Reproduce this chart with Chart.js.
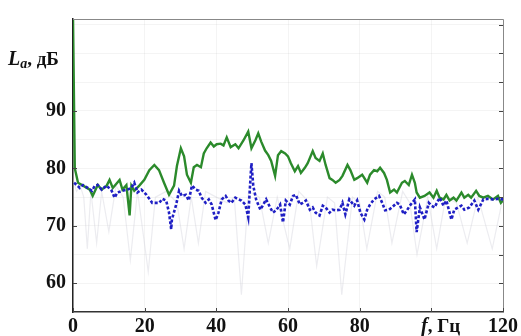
<!DOCTYPE html>
<html>
<head>
<meta charset="utf-8">
<script src="https://cdn.jsdelivr.net/npm/chart.js@4"></script>
<style>
  html, body { margin: 0; padding: 0; background: #fff; }
  #wrap { width: 521px; height: 336px; position: relative; }
</style>
</head>
<body>
<div id="wrap"><canvas id="spectrum"></canvas></div>
<script>
// green curve: f (Hz) and level (dB)
const greenF = [0, 0.5, 0.8, 1.4, 2.8, 4.7, 5.5, 6.9, 8, 9.4, 10.2, 11.1, 13, 13.8, 14.9, 15.8, 16.3, 17.1, 18.5, 19.9,
  21.3, 22.7, 24, 25.4, 26.8, 28.2, 29, 30.1, 31, 31.8, 32.9, 33.7, 34.6, 35.7, 36.5, 37.3, 38.4, 39.3, 40.1, 41.2,
  42, 42.9, 44, 45.3, 46.2, 47.6, 48.9, 49.8, 50.9, 51.7, 52.5, 53.6, 54.5, 55.3, 56.4, 57.2, 58.1, 59.2, 60, 60.8,
  61.9, 62.8, 63.6, 64.7, 65.5, 66.9, 67.7, 68.8, 69.7, 70.5, 71.6, 72.4, 73.3, 74.4, 75.2, 76.6, 77.4, 78.5, 79.3, 80.7,
  82.1, 82.9, 84, 84.9, 85.7, 86.8, 87.6, 88.5, 89.6, 90.4, 91.8, 92.6, 93.7, 94.6, 95.4, 95.9, 96.8, 98.1, 99.5, 100.6,
  101.5, 102.3, 103.4, 104.2, 105.1, 106.2, 107, 108.4, 109.2, 110.3, 111.1, 112.5, 113.4, 114.5, 115.8, 117.2, 118.6, 119.4, 120];
const greenL = [106.5, 80, 79.2, 77.5, 77, 76.3, 75.2, 77.1, 76.3, 77, 78, 76.6, 78, 76.3, 77.1, 71.8, 77, 76.1, 77, 78,
  79.7, 80.6, 79.7, 77.5, 75.4, 77, 80.4, 83.5, 82.1, 78.9, 77.5, 80.2, 80.6, 80.2, 82.6, 83.5, 84.5, 83.8, 84.2, 84.3,
  84, 85.4, 83.7, 84.2, 83.5, 84.9, 86.4, 83.5, 84.9, 86.1, 84.7, 83.1, 82.3, 81.3, 78.7, 82.3, 83, 82.6, 82.1, 80.9,
  79.5, 80.4, 79.2, 80.1, 80.9, 83, 81.8, 81.3, 82.6, 80.6, 78.3, 78, 77.5, 78, 78.7, 80.6, 79.7, 78, 78.3, 78.9,
  77.5, 78.9, 79.7, 79.5, 80.1, 79.2, 78, 75.8, 76.3, 75.8, 77.5, 77.8, 77.1, 78.9, 77.5, 75.8, 74.9, 75.2, 75.8, 74.9,
  76.1, 74.9, 74.6, 75.4, 74.4, 74.9, 74.4, 75.8, 74.9, 75.4, 74.9, 76.1, 75.2, 74.9, 75.2, 74.6, 75.2, 74, 74.4];

// blue dotted curve
const blueF = [0.3, 1.1, 1.9, 2.8, 4.1, 5.3, 6.1, 6.9, 8, 9.4, 10.8, 11.6, 12.4, 13.8, 15.2, 16.3, 17.1, 18, 19.1, 20.5,
  21.3, 22.1, 23.2, 24.1, 24.9, 26, 26.8, 27.4, 27.6, 28.8, 29.6, 30.4, 31.5, 32.3, 33.2, 34.3, 35.1, 35.9, 37, 37.9,
  38.7, 39.8, 40.6, 41.5, 42.6, 43.4, 44.2, 45.3, 46.2, 47, 48.1, 48.9, 49.5, 49.8, 50.3, 51.1, 52.3, 53.1, 53.9, 55,
  55.8, 56.7, 57.8, 58.6, 59.4, 60.5, 61.4, 62.2, 63.3, 64.1, 65, 66.1, 66.9, 67.7, 68.8, 69.7, 70.5, 71.6, 72.4, 73.3,
  74.4, 75.2, 76, 77.1, 78.5, 79.3, 80.2, 81.3, 82.1, 82.9, 84, 85.4, 86.3, 87.1, 88.2, 89, 90.4, 91.2, 92.3, 93.2,
  94, 95.4, 95.9, 96.8, 98.1, 99.3, 100.1, 100.9, 102.3, 103.4, 104.2, 105.6, 106.4, 107.5, 108.4, 109.2, 110.6, 112, 113.1, 114.5,
  115.8, 117.2, 118.6, 120];
const blueL = [77.5, 77.1, 76.6, 77.1, 76.6, 76.1, 77, 77.1, 76.3, 77, 76.1, 74.9, 75.8, 76.1, 76.3, 76.6, 77.5, 75.8, 76.3, 75.4,
  74.7, 74, 74, 74, 74.7, 74.4, 72.3, 69.4, 71.1, 73.7, 76.1, 75.2, 75.4, 74.4, 77, 76.3, 76.1, 74.9, 74, 74.6,
  73.7, 71, 72.3, 74.6, 75.2, 74.4, 74, 74.9, 74.6, 74.4, 73.7, 71.5, 78, 80.9, 77, 74.6, 72.8, 73.7, 74.6, 73.2,
  72.3, 72.7, 73.7, 70.6, 74.4, 73.7, 75.2, 75.4, 73.7, 74, 74.4, 72.8, 73.2, 72.3, 71.8, 73.5, 73.2, 72.3, 72.8, 72.7,
  72.8, 74, 72, 74.6, 73.5, 74.4, 72.3, 71.1, 72.8, 73.7, 74.6, 75.2, 74, 72.7, 72.8, 73.2, 74, 73.7, 72, 72.7,
  73.5, 74.6, 68.9, 73.2, 71.1, 74, 73.5, 73.2, 74.9, 73.5, 74.4, 71.1, 72.8, 73.2, 73.5, 72.8, 73.2, 74.4, 72.8, 74.6,
  74.7, 74.6, 74.7, 74.6];

// faint grey background curve with downward spikes
const greyF = [0, 1, 2, 3, 4, 5, 6.6, 8, 10, 12, 14, 16, 18, 21, 23, 26, 29, 31, 33, 35, 37, 40, 43, 45, 47, 49, 52,
  54.5, 57, 60.5, 63, 66, 68, 71, 73, 75, 78, 80, 82, 85, 87, 89, 92, 94, 96, 99, 101.5, 104, 107, 110, 113, 117, 120];
const greyL = [78, 76, 77, 75, 66, 76, 67, 76, 69, 77, 75, 64, 76, 62, 75, 76, 74, 66, 75, 67, 76, 75, 74, 75, 58, 76, 75,
  67, 75, 66, 76, 74, 63, 75, 74, 58, 75, 74, 66, 76, 75, 67, 76, 74, 65, 75, 66, 75, 74, 67, 75, 66, 75];

const xTicks = [0, 20, 40, 60, 80, 100, 120];
const yTicks = [60, 65, 70, 75, 80, 85, 90, 95, 100, 105];
const yLabelled = [60, 70, 80, 90];

const pts = (fs, ls) => fs.map((f, i) => ({ x: f, y: ls[i] }));
const serif = '"Liberation Serif", "DejaVu Serif", serif';

// frame, inner tick marks and the two axis titles
const framePlugin = {
  id: 'frame',
  afterDraw(chart) {
    const { ctx, chartArea: a, scales } = chart;
    ctx.save();
    ctx.strokeStyle = '#888';
    ctx.lineWidth = 1;
    ctx.beginPath();
    ctx.moveTo(a.left, a.top + 0.5); ctx.lineTo(a.right + 0.5, a.top + 0.5); ctx.lineTo(a.right + 0.5, a.bottom);
    ctx.stroke();

    ctx.strokeStyle = '#444';
    ctx.beginPath();
    yTicks.forEach(v => {
      const y = Math.round(scales.y.getPixelForValue(v)) + 0.5;
      if (yLabelled.includes(v)) { ctx.moveTo(a.left, y); ctx.lineTo(a.left + 4, y); }
      ctx.moveTo(a.right, y); ctx.lineTo(a.right - 4, y);
    });
    xTicks.forEach(v => {
      const x = Math.round(scales.x.getPixelForValue(v)) + 0.5;
      ctx.moveTo(x, a.bottom); ctx.lineTo(x, a.bottom - 4);
    });
    ctx.stroke();

    ctx.fillStyle = '#111';
    ctx.textBaseline = 'alphabetic';
    ctx.textAlign = 'left';
    // y title: La, дБ
    let x = 8, base = 65;
    ctx.font = 'italic bold 20px ' + serif;
    ctx.fillText('L', x, base); x += ctx.measureText('L').width;
    ctx.font = 'italic bold 14px ' + serif;
    ctx.fillText('a', x, base + 3); x += ctx.measureText('a').width;
    ctx.font = 'bold 19px ' + serif;
    ctx.fillText(', дБ', x, base);

    // x title: f, Гц in place of the 100 label
    base = 332;
    x = 421;
    ctx.font = 'italic bold 20px ' + serif;
    ctx.fillText('f', x, base); x += ctx.measureText('f').width;
    ctx.font = 'bold 19px ' + serif;
    ctx.fillText(', Гц', x, base);
    ctx.restore();
  }
};

new Chart(document.getElementById('spectrum'), {
  type: 'line',
  data: {
    datasets: [
      { data: pts(blueF, blueL), borderColor: '#1f1fc4', borderWidth: 2.6, borderDash: [3, 2], pointRadius: 0, tension: 0, order: 0 },
      { data: pts(greenF, greenL), borderColor: '#2b8a2b', borderWidth: 2.4, pointRadius: 0, tension: 0, order: 1 },
      { data: pts(greyF, greyL), borderColor: 'rgba(185,185,200,0.28)', borderWidth: 1.2, pointRadius: 0, tension: 0, order: 2 }
    ]
  },
  options: {
    responsive: true,
    maintainAspectRatio: false,
    animation: false,
    events: [],
    layout: { padding: { top: 12, right: 14, left: 0, bottom: 0 } },
    plugins: { legend: { display: false }, tooltip: { enabled: false } },
    scales: {
      x: {
        type: 'linear', min: 0, max: 120,
        afterFit(s) { s.height = 24; },
        afterBuildTicks(s) { s.ticks = xTicks.map(v => ({ value: v })); },
        grid: { color: 'rgba(0,0,0,0.045)', drawTicks: false },
        border: { color: '#333', width: 1.5 },
        ticks: {
          padding: 3, maxRotation: 0, autoSkip: false,
          color: '#111', font: { family: serif, size: 20, weight: 'bold' },
          callback: v => (v === 100 ? '' : String(v))
        }
      },
      y: {
        min: 55, max: 106,
        afterFit(s) { s.width = 73; },
        afterBuildTicks(s) { s.ticks = yTicks.map(v => ({ value: v })); },
        grid: { color: 'rgba(0,0,0,0.045)', drawTicks: false },
        border: { color: '#222', width: 1.5 },
        ticks: {
          padding: 7,
          color: '#111', font: { family: serif, size: 20, weight: 'bold' },
          callback: v => (yLabelled.includes(v) ? String(v) : '')
        }
      }
    }
  },
  plugins: [framePlugin]
});
</script>
</body>
</html>
